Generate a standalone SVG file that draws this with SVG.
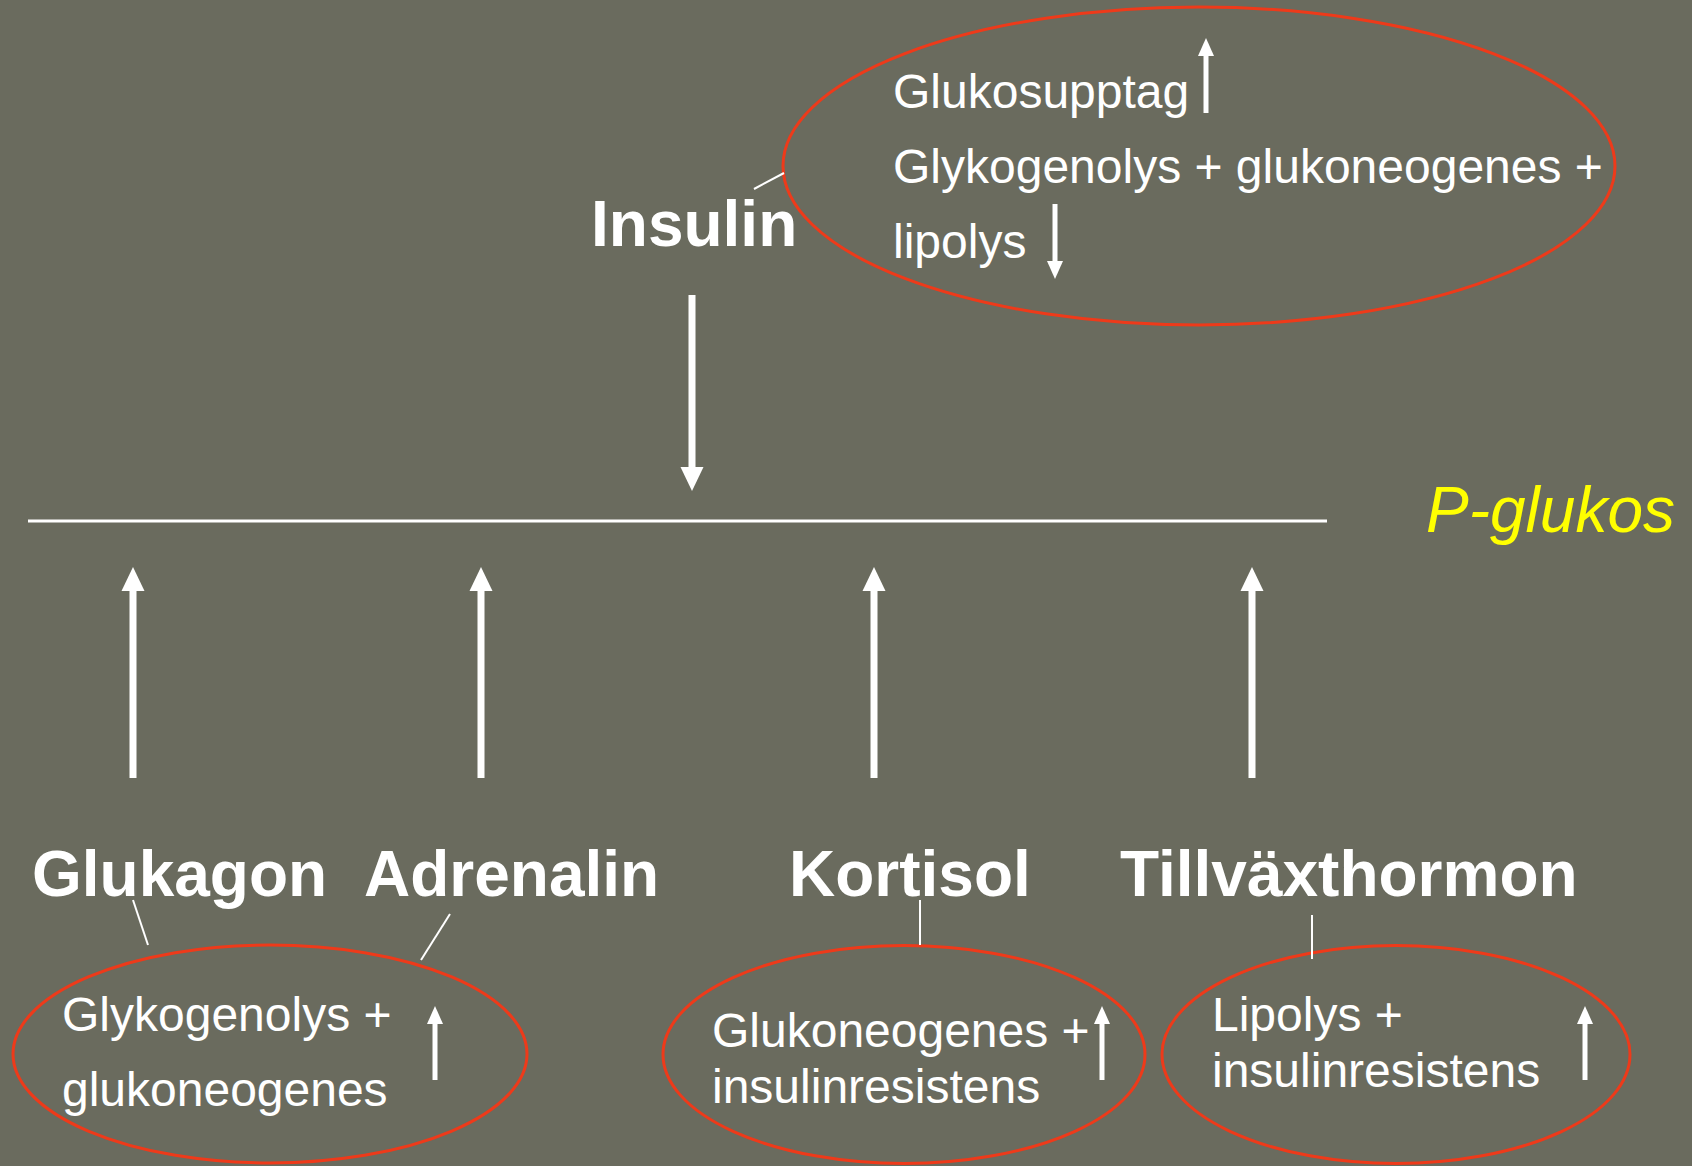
<svg xmlns="http://www.w3.org/2000/svg" width="1692" height="1166" viewBox="0 0 1692 1166">
<style>
.bg{fill:#6a6b5e}
.ell{fill:none;stroke:#ee3a1a;stroke-width:3}
.big{font-family:"Liberation Sans",Arial,sans-serif;font-weight:bold;font-size:64px;fill:#fff}
.sm{font-family:"Liberation Sans",Arial,sans-serif;font-size:48px;fill:#fff}
.pg{font-family:"Liberation Sans",Arial,sans-serif;font-style:italic;font-size:64px;fill:#ffff00}
.thin{stroke:#fff;stroke-width:2;fill:none}
.arB{stroke:#fff;stroke-width:7;fill:none;marker-end:url(#hB)}
.arS{stroke:#fff;stroke-width:5;fill:none;marker-end:url(#hS)}
</style>
<defs>
<marker id="hB" markerUnits="userSpaceOnUse" markerWidth="24" markerHeight="24" refX="0" refY="11.5" orient="auto" overflow="visible">
<path d="M0,0 L24,11.5 L0,23 z" fill="#fff"/>
</marker>
<marker id="hS" markerUnits="userSpaceOnUse" markerWidth="18" markerHeight="18" refX="0" refY="8" orient="auto" overflow="visible">
<path d="M0,0 L18,8 L0,16 z" fill="#fff"/>
</marker>
</defs>
<rect class="bg" x="0" y="0" width="1692" height="1166"/>

<g id="insulin">
<text class="big" x="591" y="246">Insulin</text>
</g>
<g id="insulin-effects">
<ellipse class="ell" cx="1199" cy="166" rx="416" ry="159"/>
<text class="sm" x="893" y="108">Glukosupptag</text>
<text class="sm" x="893" y="183">Glykogenolys + glukoneogenes +</text>
<text class="sm" x="893" y="258">lipolys</text>
</g>
<g id="p-glukos">
<line x1="28" y1="521" x2="1327" y2="521" stroke="#fff" stroke-width="3"/>
<text class="pg" x="1426" y="532">P-glukos</text>
</g>
<g id="glukagon"><text class="big" x="32" y="896">Glukagon</text></g>
<g id="adrenalin"><text class="big" x="364" y="896">Adrenalin</text></g>
<g id="kortisol"><text class="big" x="789" y="896">Kortisol</text></g>
<g id="tillvaxthormon"><text class="big" x="1120" y="896">Tillväxthormon</text></g>

<g id="effect-glyko">
<ellipse class="ell" cx="270" cy="1054" rx="257" ry="109"/>
<text class="sm" x="62" y="1031">Glykogenolys +</text>
<text class="sm" x="62" y="1106">glukoneogenes</text>
</g>
<g id="effect-kortisol">
<ellipse class="ell" cx="904" cy="1054.5" rx="241" ry="109"/>
<text class="sm" x="712" y="1047">Glukoneogenes +</text>
<text class="sm" x="712" y="1103">insulinresistens</text>
</g>
<g id="effect-gh">
<ellipse class="ell" cx="1396" cy="1054.5" rx="234" ry="109"/>
<text class="sm" x="1212" y="1031">Lipolys +</text>
<text class="sm" x="1212" y="1087">insulinresistens</text>
</g>

<g id="connectors">
<line class="arB" x1="692" y1="295" x2="692" y2="467"/>
<line class="arB" x1="133" y1="778" x2="133" y2="591"/>
<line class="arB" x1="481" y1="778" x2="481" y2="591"/>
<line class="arB" x1="874" y1="778" x2="874" y2="591"/>
<line class="arB" x1="1252" y1="778" x2="1252" y2="591"/>
<line class="arS" x1="1206" y1="113" x2="1206" y2="56"/>
<line class="arS" x1="1055" y1="204" x2="1055" y2="261"/>
<line class="arS" x1="435" y1="1080" x2="435" y2="1024"/>
<line class="arS" x1="1102" y1="1080" x2="1102" y2="1024"/>
<line class="arS" x1="1585" y1="1080" x2="1585" y2="1024"/>
<line class="thin" x1="754" y1="189" x2="784" y2="173"/>
<line class="thin" x1="133" y1="900" x2="148" y2="945"/>
<line class="thin" x1="450" y1="914" x2="421" y2="960"/>
<line class="thin" x1="920" y1="900" x2="920" y2="945"/>
<line class="thin" x1="1312" y1="915" x2="1312" y2="959"/>
</g>
</svg>
